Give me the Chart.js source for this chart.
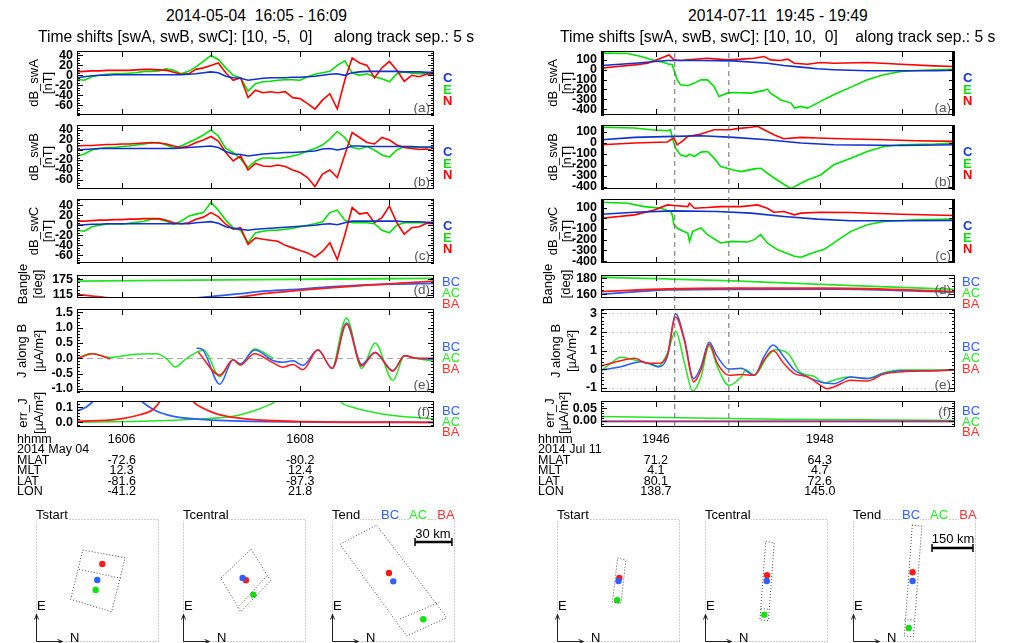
<!DOCTYPE html>
<html>
<head>
<meta charset="utf-8">
<script src="https://cdn.jsdelivr.net/npm/chart.js@4.4.1/dist/chart.umd.min.js"></script>
<style>
  body { margin: 0; background: #fff; }
  #fig { position: relative; width: 1010px; height: 643px; overflow: hidden; background: #fff;
         font-family: "Liberation Sans", Arial, Helvetica, sans-serif; color: #000; }
  .t { position: absolute; white-space: pre; line-height: 1; }
  .p { position: absolute; }
  canvas { display: block; }
</style>
</head>
<body>
<div id="fig"></div>
<script>
// ---------- time axes (minutes of the hour) ----------
const leftRange = [5.5, 9.5];
const rightRange = [45.33, 49.65];
const leftMinuteTicks = [6, 7, 8, 9];
const rightMinuteTicks = [46, 47, 48, 49];
const leftTimeLabels = [[6, '1606'], [8, '1608']];
const rightTimeLabels = [[46, '1946'], [48, '1948']];
const eventTimes = [46.23, 46.89];          // dashed markers, right column
const tLeft = Array.from({ length: 49 }, (_, i) => 5.5 + i / 12);   // 5 s samples

// ---------- left column: dB per satellite (nT), one value per 5 s ----------
const swA_C = [-5,-3,-1,0,0,1,1,1,1,1, 1,1,1,1,1,2,3,5,7,5, -2,-5,-6,-10,-8,-6,-5,-5,-5,-4, -4,-3,-2,0,2,3,0,5,7,8, 8,8,8,8,7,7,7,6,6];
const swA_E = [-8,-10,-3,0,2,3,3,4,5,8, 8,9,13,10,3,8,17,28,40,32, 15,0,-5,-32,-17,-13,-12,-10,-9,-9, -10,-3,2,5,8,20,29,5,0,3, -3,-7,-13,3,7,4,3,3,3];
const swA_N = [7,8,9,9,10,10,10,10,11,12, 12,11,10,6,2,3,12,15,20,25, 5,-10,-5,-45,-30,-35,-33,-35,-33,-45, -47,-57,-68,-50,-37,-68,-10,35,25,20, -5,15,28,10,-12,0,-3,2,3];
const swB_C = [0,1,2,3,3,3,3,3,3,3, 3,3,3,3,4,5,6,7,8,5, -3,-8,-9,-12,-10,-8,-7,-6,-5,-5, -4,-3,-2,2,3,0,3,8,8,7, 7,7,7,7,7,7,6,6,6];
const swB_E = [-12,-8,0,3,5,5,7,8,10,12, 14,15,10,4,8,15,22,30,40,28, 3,-5,-18,-35,-22,-16,-16,-17,-15,-12, -8,-2,3,10,22,37,25,5,2,7, 0,-10,-14,0,7,5,5,5,5];
const swB_N = [8,9,9,10,11,11,12,12,13,14, 15,14,12,8,5,8,15,20,27,18, -5,-22,-12,-40,-27,-32,-33,-30,-33,-40, -45,-55,-73,-48,-40,-55,-10,35,25,15, 12,25,20,10,5,3,1,2,-2];
const swC_C = [0,1,2,2,3,3,3,3,3,3, 3,3,3,3,3,3,5,6,7,4, -3,-6,-8,-10,-8,-7,-6,-5,-4,-3, -2,-1,0,2,3,1,5,8,8,8, 8,8,8,8,7,7,7,6,6];
const swC_E = [-10,-12,-3,0,2,3,2,4,6,8, 12,12,8,2,8,18,22,25,45,30, 10,-5,-10,-35,-15,-12,-10,-10,-8,-6, -3,0,3,7,25,30,10,5,5,5, 3,-10,-15,0,5,5,5,5,5];
const swC_N = [8,8,9,10,10,11,11,12,12,13, 13,13,10,5,3,5,12,16,25,17, 2,-8,-5,-38,-25,-28,-30,-32,-40,-45, -50,-55,-63,-52,-35,-68,-20,35,22,25, 5,15,38,5,-18,-5,-3,4,3];

// ---------- left column: angles, currents, errors as (minute, value) ----------
const bangleL_BC = [[6.7,98],[6.84,102],[7.3,118],[7.625,129.5],[8.0,137],[8.37,146],[8.75,153],[9.5,159]];
const bangleL_AC = [[5.5,168.4],[7.5,174],[9.5,179]];
const bangleL_BA = [[5.5,116],[5.87,102],[5.95,98],[6.5,null],[7.1,98],[7.24,102],[7.625,120],[8.0,132],[8.37,143],[8.75,152],[9.12,160],[9.5,168]];
const jL_BC = [[6.84,0.33],[6.9,0.3],[7.1,-0.85],[7.25,-0.05],[7.33,-0.18],[7.49,0.27],[7.7,-0.08],[7.81,-0.13],[7.92,-0.08],[8.03,-0.23],[8.2,0.28],[8.36,-0.33],[8.52,1.15],[8.69,-0.2],[8.84,0.2],[9.04,-0.4],[9.17,0.08],[9.3,0.0],[9.5,-0.03]];
const jL_AC = [[5.5,0.0],[5.66,0.16],[5.87,0.03],[6.1,0.12],[6.39,0.15],[6.5,0.0],[6.6,-0.28],[6.73,0.0],[6.92,0.27],[7.1,-0.6],[7.25,-0.05],[7.33,-0.22],[7.49,0.3],[7.7,0.0],[7.9,null],[8.38,-0.25],[8.52,1.32],[8.69,-0.33],[8.84,0.5],[9.04,-0.72],[9.17,0.08],[9.3,0.0],[9.5,-0.1]];
const jL_BA = [[5.5,-0.02],[5.67,0.15],[5.87,-0.02],[6.3,null],[6.86,0.2],[7.1,-0.55],[7.25,-0.05],[7.33,-0.22],[7.49,0.15],[7.7,-0.15],[7.81,-0.29],[7.92,-0.2],[8.03,-0.37],[8.2,0.27],[8.36,-0.33],[8.52,1.12],[8.69,-0.25],[8.84,0.18],[9.04,-0.42],[9.17,0.08],[9.3,0.0],[9.5,0.0]];
const errL_BC = [[5.5,0.075],[5.6,0.1],[5.68,0.14],[5.75,0.2],[6.15,0.2],[6.225,0.14],[6.39,0.075],[6.58,0.04],[6.88,0.02],[7.25,0.01],[7.63,0.004],[8.5,0.0],[9.5,0.0]];
const errL_AC = [[5.5,0.0],[6.1,0.006],[6.88,0.022],[7.25,0.04],[7.475,0.075],[7.625,0.109],[7.72,0.14],[7.78,0.2],[8.4,0.2],[8.45,0.14],[8.6,0.098],[8.745,0.075],[9.12,0.04],[9.5,0.024]];
const errL_BA = [[5.5,0.006],[5.95,0.02],[6.205,0.05],[6.355,0.086],[6.43,0.14],[6.47,0.2],[6.75,0.2],[6.8,0.14],[6.915,0.093],[7.065,0.056],[7.25,0.033],[7.63,0.012],[8.0,0.005],[9.5,0.0]];

// ---------- right column: dB per satellite (nT) as (minute, value) ----------
const rA_C = [[45.34,43],[45.74,66],[46.14,93],[46.55,93],[46.95,90],[47.36,66],[47.56,43],[47.77,26],[47.97,9],[48.17,0],[48.58,-11],[48.99,-11],[49.41,-11],[49.65,-5]];
const rA_E = [[45.34,168],[45.655,165],[45.82,134],[45.98,93],[46.1,73],[46.14,60],[46.2,50],[46.22,0],[46.26,-100],[46.3,-153],[46.39,-163],[46.47,-136],[46.55,-103],[46.63,-103],[46.71,-170],[46.77,-272],[46.87,-238],[46.95,-231],[47.16,-238],[47.32,-210],[47.36,-197],[47.4,-238],[47.52,-305],[47.65,-339],[47.69,-390],[47.77,-373],[47.85,-390],[48.01,-322],[48.17,-255],[48.38,-177],[48.58,-103],[48.78,-52],[48.99,-18],[49.19,-8],[49.41,0],[49.65,5]];
const rA_N = [[45.34,16],[45.53,32],[45.74,49],[45.9,66],[46.06,117],[46.16,150],[46.22,100],[46.3,93],[46.47,107],[46.63,117],[46.87,100],[47.04,107],[47.2,117],[47.32,134],[47.4,100],[47.52,93],[47.61,107],[47.69,66],[47.85,56],[48.01,73],[48.17,66],[48.58,73],[48.99,56],[49.39,39],[49.65,32]];
const rB_C = [[45.34,29],[45.74,51],[46.22,60],[46.55,66],[46.95,51],[47.36,29],[47.77,0],[48.17,-17],[48.99,-23],[49.65,-17]];
const rB_E = [[45.34,143],[45.74,137],[45.94,121],[46.14,112],[46.18,121],[46.2,45],[46.24,-47],[46.3,-109],[46.37,-124],[46.41,-102],[46.47,-124],[46.55,-84],[46.63,-78],[46.71,-139],[46.79,-216],[46.95,-247],[47.04,-262],[47.2,-237],[47.28,-231],[47.36,-277],[47.48,-339],[47.61,-400],[47.65,-415],[47.77,-369],[47.85,-339],[48.01,-293],[48.17,-200],[48.38,-139],[48.58,-78],[48.78,-32],[48.99,-17],[49.41,-10],[49.65,0]];
const rB_N = [[45.34,-17],[45.74,0],[46.14,8],[46.18,29],[46.22,45],[46.26,-17],[46.32,14],[46.39,60],[46.55,82],[46.71,121],[46.91,121],[46.99,131],[47.16,143],[47.24,152],[47.32,121],[47.44,75],[47.56,39],[47.77,51],[47.97,45],[48.38,36],[48.78,29],[49.19,20],[49.65,14]];
const rC_C = [[45.34,38],[45.74,57],[46.22,69],[46.75,63],[47.16,48],[47.56,17],[47.97,-8],[48.38,-23],[48.99,-23],[49.65,-20]];
const rC_E = [[45.34,149],[45.655,140],[45.86,109],[46.06,94],[46.18,63],[46.2,32],[46.22,-60],[46.26,-91],[46.32,-116],[46.39,-138],[46.41,-215],[46.45,-122],[46.55,-91],[46.63,-153],[46.79,-230],[46.92,-215],[47.12,-221],[47.2,-199],[47.28,-153],[47.36,-230],[47.48,-292],[47.69,-354],[47.77,-363],[47.97,-307],[48.05,-292],[48.17,-230],[48.38,-122],[48.58,-60],[48.78,-30],[49.19,-14],[49.65,-8]];
const rC_N = [[45.34,1],[45.74,32],[45.98,78],[46.14,125],[46.22,119],[46.39,109],[46.41,140],[46.47,94],[46.63,100],[46.79,109],[47.04,109],[47.24,125],[47.36,94],[47.44,57],[47.56,63],[47.69,32],[47.77,48],[48.01,57],[48.38,54],[48.99,38],[49.65,26]];

// ---------- right column: angles, currents, errors ----------
const bangleR_BC = [[45.34,160],[46.14,165.4],[46.95,166.2],[48.17,166.6],[49.65,162.5]];
const bangleR_AC = [[45.34,181.2],[46.14,179.1],[46.95,176.6],[48.17,171.6],[49.65,166.2]];
const bangleR_BA = [[45.34,163.3],[46.14,166.6],[46.95,167.5],[48.17,167.5],[49.65,163.3]];
const jR_BC = [[45.34,-0.05],[45.57,0.13],[45.82,0.4],[45.94,0.27],[46.04,0.13],[46.14,0.67],[46.24,2.98],[46.35,1.58],[46.46,-0.51],[46.55,0.13],[46.65,1.44],[46.75,0.67],[46.89,0.0],[47.04,0.04],[47.2,-0.33],[47.32,0.67],[47.43,1.29],[47.56,0.67],[47.69,-0.05],[47.85,-0.42],[48.01,-0.69],[48.17,-0.78],[48.38,-0.42],[48.58,-0.51],[48.78,-0.24],[48.99,-0.09],[49.39,-0.09],[49.65,-0.05]];
const jR_AC = [[45.34,-0.05],[45.45,0.31],[45.57,0.64],[45.74,0.49],[45.9,0.31],[46.02,0.13],[46.14,0.85],[46.24,2.04],[46.35,0.31],[46.45,-1.18],[46.55,-0.42],[46.65,1.25],[46.75,0.13],[46.89,-0.87],[47.04,-0.42],[47.1,-0.05],[47.2,-0.33],[47.36,0.67],[47.46,1.04],[47.61,0.85],[47.77,-0.2],[47.93,-0.38],[48.05,-0.75],[48.17,-0.6],[48.34,-0.42],[48.58,-0.51],[48.78,-0.2],[48.99,-0.05],[49.39,-0.05],[49.65,-0.02]];
const jR_BA = [[45.34,0.18],[45.57,0.45],[45.74,0.58],[45.9,0.31],[46.02,0.31],[46.14,0.76],[46.24,2.8],[46.35,1.49],[46.46,-0.69],[46.55,-0.05],[46.65,1.35],[46.75,0.31],[46.89,-0.33],[47.04,-0.29],[47.2,-0.33],[47.32,0.49],[47.43,1.0],[47.56,0.31],[47.69,-0.24],[47.85,-0.42],[48.01,-0.87],[48.09,-1.05],[48.17,-0.96],[48.38,-0.6],[48.58,-0.64],[48.78,-0.27],[48.99,-0.15],[49.39,-0.09],[49.65,-0.05]];
const errR_BC = [[45.34,-0.002],[49.65,-0.002]];
const errR_AC = [[45.34,0.017],[46.5,0.011],[47.5,0.007],[49.65,0.002]];
const errR_BA = [[45.34,-0.002],[49.65,-0.002]];

// ---------- orbit position table ----------
const rowNames = ['MLAT', 'MLT', 'LAT', 'LON'];
const leftRows = [['-72.6', '-80.2'], ['12.3', '12.4'], ['-81.6', '-87.3'], ['-41.2', '21.8']];
const rightRows = [['71.2', '64.3'], ['4.1', '4.7'], ['80.1', '72.6'], ['138.7', '145.0']];

// ---------- spacecraft configuration insets (km, box lower-left = 0) ----------
// dots in order BC, AC, BA
const insetL = {
  size: 100, bar: 30,
  start:   { rect: [[38,74.8],[72.4,68.5],[61.5,24.6],[28.2,34.7]], div: [[35,59.1],[68.9,51.8]], dots: [[49.8,50.4],[48.5,42.3],[53.9,63.4]] },
  central: { rect: [[55.3,75.4],[71.3,49.8],[46.9,24.6],[30.7,51.8]], div: [[68,53.7],[44.1,27.4]], dots: [[48.5,52],[57.2,38.5],[51.2,50.2]] },
  end:     { rect: [[6.5,79.4],[36.3,95.1],[93.3,19.8],[60.7,4.9]], div: [[55.3,18.7],[87.2,32.3]], dots: [[49.8,49.3],[74.2,18.5],[46.3,56.1]] },
  barPos: [67.5, 81.3]
};
const insetR = {
  size: 450, bar: 150,
  start:   { rect: [[222,308],[252,299],[234,142],[203,146]], div: [], dots: [[225,223],[220,153],[228,234]] },
  central: { rect: [[222,367],[253,363],[232,78],[201,81]], div: [[204,122],[233,120]], dots: [[226,223],[217,100],[227,244]] },
  end:     { rect: [[217,428],[252,424],[221,19],[188,22]], div: [[188,81],[223,81]], dots: [[218,223],[204,51],[218,255]] },
  barPos: [289, 344]
};

// ---------- drawing ----------
const FONT = '"Liberation Sans", Arial, Helvetica, sans-serif';
Chart.defaults.font.family = FONT;
const fig = document.getElementById('fig');

const DB_BLUE = '#1030d0', DB_GREEN = '#00e000', DB_RED = '#ff0000';
const J_BLUE = '#2a5cff', J_GREEN = '#22e622', J_RED = '#ff1a1a';
const LBL_BLUE = '#2f5fff', LBL_GREEN = '#22ee22', LBL_RED = '#ff3030';

const grid5s = arr => arr.map((v, i) => ({ x: tLeft[i], y: v }));
const pairs = arr => arr.map(([x, y]) => ({ x, y }));

function label(x, y, s, o = {}) {
  const d = document.createElement('div');
  d.className = 't';
  d.textContent = s;
  d.style.left = x + 'px';
  d.style.top = y + 'px';
  d.style.fontSize = (o.size || 12.5) + 'px';
  if (o.bold) d.style.fontWeight = 'bold';
  if (o.color) d.style.color = o.color;
  if (o.bg) d.style.background = o.bg;
  const ax = { left: '0', center: '-50%', right: '-100%' }[o.align || 'left'];
  d.style.transform = o.rot ? 'translate(-50%,-50%) rotate(-90deg)' : `translate(${ax},-50%)`;
  fig.appendChild(d);
  return d;
}

function fitWidth(d, w) {
  const fs = parseFloat(d.style.fontSize) * w / d.offsetWidth;
  d.style.fontSize = fs + 'px';
  return fs;
}

// box, inward ticks, reference lines
const framePlugin = {
  id: 'frame',
  beforeDatasetsDraw(chart, args, o) {
    const { ctx, chartArea: a } = chart;
    const ys = chart.scales.y;
    ctx.save();
    ctx.lineWidth = 1;
    if (o.grid) {
      ctx.strokeStyle = '#c4c4c4';
      ctx.setLineDash([1, 3]);
      o.yTicks.forEach(v => {
        const y = Math.round(ys.getPixelForValue(v)) + 0.5;
        ctx.beginPath(); ctx.moveTo(a.left, y); ctx.lineTo(a.right, y); ctx.stroke();
      });
    }
    if (o.zero) {
      ctx.strokeStyle = '#a8a8a8';
      ctx.setLineDash([6, 4]);
      const y = Math.round(ys.getPixelForValue(0)) + 0.5;
      ctx.beginPath(); ctx.moveTo(a.left, y); ctx.lineTo(a.right, y); ctx.stroke();
    }
    ctx.restore();
  },
  afterDatasetsDraw(chart, args, o) {
    const { ctx, chartArea: a } = chart;
    const xs = chart.scales.x, ys = chart.scales.y;
    const l = Math.round(a.left), r = Math.round(a.right), t = Math.round(a.top), b = Math.round(a.bottom);
    const seg = (x1, y1, x2, y2) => { ctx.beginPath(); ctx.moveTo(x1, y1); ctx.lineTo(x2, y2); ctx.stroke(); };
    ctx.save();
    ctx.strokeStyle = '#000';
    ctx.fillStyle = '#000';
    ctx.lineWidth = 1;
    ctx.strokeRect(l + 0.5, t + 0.5, r - l - 1, b - t - 1);
    o.xTicks.forEach(v => {
      const x = Math.round(xs.getPixelForValue(v)) + 0.5;
      seg(x, b, x, b - 6); seg(x, t, x, t + 6);
    });
    if (o.yMinor) {
      for (let v = Math.ceil(ys.min / o.yMinor) * o.yMinor; v <= ys.max; v += o.yMinor) {
        const y = Math.round(ys.getPixelForValue(v)) + 0.5;
        seg(l, y, l + 3, y); seg(r, y, r - 3, y);
      }
    }
    o.yTicks.forEach(v => {
      const y = Math.round(ys.getPixelForValue(v)) + 0.5;
      seg(l, y, l + 6, y); seg(r, y, r - 6, y);
    });
    if (o.thick) {
      ctx.fillRect(l, t, 3, b - t);
      ctx.fillRect(r - 3, t, 3, b - t);
    }
    ctx.restore();
  }
};

function addPanel(o) {
  const [L, T, R, B] = o.box;
  const padL = 48, padT = 8, padR = 4, padB = 3;
  const wrap = document.createElement('div');
  wrap.className = 'p';
  wrap.style.left = (L - padL) + 'px';
  wrap.style.top = (T - padT) + 'px';
  const cv = document.createElement('canvas');
  cv.width = R - L + padL + padR;
  cv.height = B - T + padT + padB;
  wrap.appendChild(cv);
  fig.appendChild(wrap);
  return new Chart(cv, {
    type: 'line',
    data: {
      datasets: o.series.map(s => ({
        data: s.data,
        borderColor: s.color,
        borderWidth: s.width || 1.5,
        pointRadius: 0,
        tension: 0,
        cubicInterpolationMode: o.smooth ? 'monotone' : 'default',
        spanGaps: false,
        fill: false
      }))
    },
    options: {
      responsive: false,
      animation: false,
      devicePixelRatio: 1,
      events: [],
      layout: { padding: { left: 0, top: padT, right: padR, bottom: padB }, autoPadding: false },
      plugins: {
        legend: { display: false },
        tooltip: { enabled: false },
        frame: { xTicks: o.xTicks, yTicks: o.yTicks, yMinor: o.yMinor, thick: o.thick, zero: o.zero, grid: o.grid }
      },
      scales: {
        x: { type: 'linear', min: o.xRange[0], max: o.xRange[1], display: false },
        y: {
          type: 'linear', min: o.yRange[0], max: o.yRange[1],
          grid: { display: false, drawTicks: false },
          border: { display: false },
          ticks: {
            autoSkip: false, padding: 4, color: '#000',
            font: { family: FONT, size: 12.5, weight: 'bold' },
            callback: v => Number(v).toFixed(o.dec || 0)
          },
          afterBuildTicks: s => { s.ticks = o.yTicks.map(v => ({ value: v })); },
          afterFit: s => { s.width = padL; s.paddingTop = 0; s.paddingBottom = 0; }
        }
      }
    },
    plugins: [framePlugin]
  });
}

// dashed event markers through all right-column panels
function addMarkers(box, range, times) {
  const [L, T, R, B] = box;
  const wrap = document.createElement('div');
  wrap.className = 'p';
  wrap.style.left = L + 'px';
  wrap.style.top = T + 'px';
  const cv = document.createElement('canvas');
  cv.width = R - L; cv.height = B - T;
  wrap.appendChild(cv);
  fig.appendChild(wrap);
  new Chart(cv, {
    type: 'line',
    data: {
      datasets: times.map(t => ({
        data: [{ x: t, y: 0 }, { x: t, y: 1 }],
        borderColor: '#666', borderWidth: 1, borderDash: [5, 4], pointRadius: 0
      }))
    },
    options: {
      responsive: false, animation: false, devicePixelRatio: 1, events: [],
      layout: { padding: 0, autoPadding: false },
      plugins: { legend: { display: false }, tooltip: { enabled: false } },
      scales: {
        x: { type: 'linear', min: range[0], max: range[1], display: false },
        y: { type: 'linear', min: 0, max: 1, display: false }
      }
    }
  });
}

const insetPlugin = {
  id: 'insetFrame',
  beforeDatasetsDraw(chart) {
    const { ctx, chartArea: a } = chart;
    const l = Math.round(a.left), r = Math.round(a.right), t = Math.round(a.top), b = Math.round(a.bottom);
    ctx.save();
    ctx.strokeStyle = '#9a9a9a';
    ctx.lineWidth = 1;
    ctx.setLineDash([1, 2]);
    ctx.strokeRect(l + 0.5, t + 0.5, r - l - 1, b - t - 1);
    ctx.setLineDash([]);
    ctx.strokeStyle = '#222';
    const seg = (x1, y1, x2, y2) => { ctx.beginPath(); ctx.moveTo(x1, y1); ctx.lineTo(x2, y2); ctx.stroke(); };
    const x0 = l + 0.5, y0 = b - 0.5;
    seg(x0, y0, x0, y0 - 27); seg(x0, y0 - 27, x0 - 2, y0 - 22); seg(x0, y0 - 27, x0 + 2, y0 - 22);
    seg(x0, y0, x0 + 26, y0); seg(x0 + 26, y0, x0 + 21, y0 - 2); seg(x0 + 26, y0, x0 + 21, y0 + 2);
    ctx.restore();
  }
};

function addInset(x, y, set, cfg, withBar) {
  const S = 123, m = 3;
  const wrap = document.createElement('div');
  wrap.className = 'p';
  wrap.style.left = (x - m) + 'px';
  wrap.style.top = (y - m) + 'px';
  const cv = document.createElement('canvas');
  cv.width = S + 2 * m; cv.height = S + 2 * m;
  wrap.appendChild(cv);
  fig.appendChild(wrap);
  const outline = { borderColor: '#444', borderWidth: 1, borderDash: [1, 2], pointRadius: 0, showLine: true };
  const dotColors = [LBL_BLUE, '#11e011', '#ff1a1a'];
  const datasets = [
    Object.assign({ data: pairs(set.rect.concat([set.rect[0]])) }, outline),
    Object.assign({ data: pairs(set.div) }, outline)
  ];
  set.dots.forEach((p, i) => datasets.push({
    data: pairs([p]), pointRadius: 3.2, pointBackgroundColor: dotColors[i], pointBorderWidth: 0, showLine: false
  }));
  if (withBar) {
    const [bx, by] = cfg.barPos;
    datasets.push({
      data: pairs([[bx, by], [bx + cfg.bar, by]]), showLine: true, borderColor: '#000', borderWidth: 2.5,
      pointStyle: 'line', rotation: 90, pointRadius: 4, pointBorderWidth: 1.5, pointBorderColor: '#000'
    });
  }
  new Chart(cv, {
    type: 'scatter',
    data: { datasets },
    options: {
      responsive: false, animation: false, devicePixelRatio: 1, events: [],
      layout: { padding: m, autoPadding: false },
      plugins: { legend: { display: false }, tooltip: { enabled: false } },
      scales: {
        x: { type: 'linear', min: 0, max: cfg.size, display: false },
        y: { type: 'linear', min: 0, max: cfg.size, display: false }
      }
    },
    plugins: [insetPlugin]
  });
}

// ---------- layout ----------
const rowsY = { a: [51, 115], b: [125, 189], c: [199, 263], d: [275, 298], e: [309, 392], f: [401, 427] };

function column(c) {
  const L = c.L, R = c.R;
  const box = k => [L, rowsY[k][0], R, rowsY[k][1]];
  const common = { xRange: c.range, xTicks: c.minuteTicks };
  const dbSeries = (C, N, E) => [
    { data: C, color: DB_BLUE, width: 1.6 },
    { data: N, color: DB_RED, width: 1.6 },
    { data: E, color: DB_GREEN, width: 1.6 }
  ];
  addPanel(Object.assign({ box: box('a'), series: dbSeries(c.dbA[0], c.dbA[2], c.dbA[1]) }, common, c.dbAxis[0]));
  addPanel(Object.assign({ box: box('b'), series: dbSeries(c.dbB[0], c.dbB[2], c.dbB[1]) }, common, c.dbAxis[1]));
  addPanel(Object.assign({ box: box('c'), series: dbSeries(c.dbC[0], c.dbC[2], c.dbC[1]) }, common, c.dbAxis[2]));
  addPanel(Object.assign({ box: box('d'), smooth: true, series: [
    { data: pairs(c.bangle[2]), color: J_RED, width: 1.8 },
    { data: pairs(c.bangle[0]), color: J_BLUE, width: 1.8 },
    { data: pairs(c.bangle[1]), color: J_GREEN, width: 1.8 }
  ] }, common, c.angAxis));
  addPanel(Object.assign({ box: box('e'), smooth: true, series: [
    { data: pairs(c.j[2]), color: J_RED, width: 1.5 },
    { data: pairs(c.j[0]), color: J_BLUE, width: 1.5 },
    { data: pairs(c.j[1]), color: J_GREEN, width: 1.5 }
  ] }, common, c.jAxis));
  addPanel(Object.assign({ box: box('f'), smooth: true, series: [
    { data: pairs(c.err[2]), color: c.errRed, width: 1.8 },
    { data: pairs(c.err[0]), color: J_BLUE, width: 1.8 },
    { data: pairs(c.err[1]), color: J_GREEN, width: 1.5 }
  ] }, common, c.errAxis));

  // titles
  const t1 = label(c.titleX, 16, c.title, { size: 16 });
  fitWidth(t1, c.titleW);
  const t2 = label(c.subX, 37, c.sub, { size: 16 });
  t2.style.fontSize = c.subSize + 'px';

  // y-axis titles
  const at = c.axisTitleX;
  const mid = k => (rowsY[k][0] + rowsY[k][1]) / 2;
  ['a', 'b', 'c'].forEach((k, i) => {
    label(at.db[0], mid(k), 'dB_sw' + 'ABC'[i], { size: 13, rot: true });
    label(at.db[1], mid(k), '[nT]', { size: 13, rot: true });
    const top = rowsY[k][0];
    label(c.sideX, top + 26, 'C', { size: 13, bold: true, color: '#1a3ae0', align: 'left' });
    label(c.sideX, top + 37.5, 'E', { size: 13, bold: true, color: '#10dd10', align: 'left' });
    label(c.sideX, top + 49, 'N', { size: 13, bold: true, color: '#ff0000', align: 'left' });
  });
  label(at.ang[0], mid('d') - 3, 'Bangle', { size: 13, rot: true });
  label(at.ang[1], mid('d') - 3, '[deg]', { size: 13, rot: true });
  label(at.j[0], mid('e'), 'J along B', { size: 13, rot: true });
  label(at.j[1], mid('e'), '[\u00b5A/m\u00b2]', { size: 13, rot: true });
  label(at.err[0], 413, 'err_J', { size: 13, rot: true });
  label(at.err[1], 413, '[\u00b5A/m\u00b2]', { size: 13, rot: true });

  // BC / AC / BA keys
  [[281, 292, 303], [346, 357, 368], [410, 420.5, 431]].forEach(ys => {
    label(c.sideX - 1, ys[0], 'BC', { size: 13, color: LBL_BLUE });
    label(c.sideX - 1, ys[1], 'AC', { size: 13, color: LBL_GREEN });
    label(c.sideX - 1, ys[2], 'BA', { size: 13, color: LBL_RED });
  });

  // panel letters
  const letterY = { a: 108, b: 182, c: 256, d: 290, e: 385, f: 412 };
  Object.keys(letterY).forEach(k => label(R - 4, letterY[k], '(' + k + ')', { size: 13.5, color: '#555', align: 'right' }));

  // time / position table
  const pxPerMin = (R - L) / (c.range[1] - c.range[0]);
  const timeX = m => L + (m - c.range[0]) * pxPerMin;
  const rowY = [438.5, 449, 459.5, 470, 480.5, 491];
  label(c.tableX, rowY[0], 'hhmm', { size: 12.5 });
  label(c.tableX, rowY[1], c.dateText, { size: 12.5 });
  c.timeLabels.forEach(([m, s]) => label(timeX(m), rowY[0], s, { size: 12.5, align: 'center' }));
  rowNames.forEach((n, i) => {
    label(c.tableX, rowY[i + 2], n, { size: 12.5 });
    c.rows[i].forEach((v, j) => label(timeX(c.timeLabels[j][0]), rowY[i + 2], v, { size: 12.5, align: 'center' }));
  });

  // insets
  const iy = 519;
  c.insetX.forEach((ix, i) => {
    const key = ['start', 'central', 'end'][i];
    addInset(ix, iy, c.inset[key], c.inset, i === 2);
    label(ix, 514, ['Tstart', 'Tcentral', 'Tend'][i], { size: 13, bg: '#fff' });
    label(ix + 1, 605, 'E', { size: 13 });
    label(ix + 34, 637, 'N', { size: 13 });
  });
  label(c.keyX[0], 514, 'BC', { size: 13, color: LBL_BLUE, align: 'center', bg: '#fff' });
  label(c.keyX[1], 514, 'AC', { size: 13, color: LBL_GREEN, align: 'center', bg: '#fff' });
  label(c.keyX[2], 514, 'BA', { size: 13, color: LBL_RED, align: 'center', bg: '#fff' });
  label(c.barLabel[0], c.barLabel[1], c.inset.bar + ' km', { size: 13, align: 'center' });
}

// right subtitle width decides the shared subtitle size
const probe = label(0, -100, 'Time shifts [swA, swB, swC]: [10, 10,  0]    along track sep.: 5 s', { size: 16 });
const subSize = fitWidth(probe, 436);
probe.remove();

column({
  L: 77, R: 434, range: leftRange, minuteTicks: leftMinuteTicks, timeLabels: leftTimeLabels,
  dbA: [grid5s(swA_C), grid5s(swA_E), grid5s(swA_N)],
  dbB: [grid5s(swB_C), grid5s(swB_E), grid5s(swB_N)],
  dbC: [grid5s(swC_C), grid5s(swC_E), grid5s(swC_N)],
  dbAxis: [
    { yRange: [-80, 49], yTicks: [-60, -40, -20, 0, 20, 40], yMinor: 5 },
    { yRange: [-78, 50], yTicks: [-60, -40, -20, 0, 20, 40], yMinor: 5 },
    { yRange: [-75, 52], yTicks: [-60, -40, -20, 0, 20, 40], yMinor: 5 }
  ],
  angAxis: { yRange: [102, 192], yTicks: [115, 175], yMinor: 15 },
  jAxis: { yRange: [-1.10, 1.61], yTicks: [-1, -0.5, 0, 0.5, 1, 1.5], yMinor: 0.1, dec: 1, zero: true },
  errAxis: { yRange: [-0.031, 0.141], yTicks: [0, 0.1], yMinor: 0.02, dec: 1 },
  bangle: [bangleL_BC, bangleL_AC, bangleL_BA],
  j: [jL_BC, jL_AC, jL_BA],
  err: [errL_BC, errL_AC, errL_BA], errRed: '#ff1a1a',
  title: '2014-05-04  16:05 - 16:09', titleX: 166, titleW: 181,
  sub: 'Time shifts [swA, swB, swC]: [10, -5,  0]     along track sep.: 5 s', subX: 38, subSize,
  axisTitleX: { db: [33, 47], ang: [22, 37], j: [21, 38], err: [22, 38] },
  sideX: 443, tableX: 17, dateText: '2014 May 04', rows: leftRows,
  inset: insetL, insetX: [36, 183, 332], keyX: [390, 418, 446], barLabel: [433, 533]
});

column({
  L: 601, R: 955, range: rightRange, minuteTicks: rightMinuteTicks, timeLabels: rightTimeLabels,
  dbA: [pairs(rA_C), pairs(rA_E), pairs(rA_N)],
  dbB: [pairs(rB_C), pairs(rB_E), pairs(rB_N)],
  dbC: [pairs(rC_C), pairs(rC_E), pairs(rC_N)],
  dbAxis: [
    { yRange: [-460, 190], yTicks: [-400, -300, -200, -100, 0, 100], yMinor: 20, thick: true },
    { yRange: [-421, 164], yTicks: [-400, -300, -200, -100, 0, 100], yMinor: 20, thick: true },
    { yRange: [-417, 180], yTicks: [-400, -300, -200, -100, 0, 100], yMinor: 20, thick: true }
  ],
  angAxis: { yRange: [155.4, 184], yTicks: [160, 180], yMinor: 5 },
  jAxis: { yRange: [-1.23, 3.23], yTicks: [-1, 0, 1, 2, 3], yMinor: 0.2, grid: true },
  errAxis: { yRange: [-0.0236, 0.0776], yTicks: [0, 0.05], yMinor: 0.01, dec: 2 },
  bangle: [bangleR_BC, bangleR_AC, bangleR_BA],
  j: [jR_BC, jR_AC, jR_BA],
  err: [errR_BC, errR_AC, errR_BA], errRed: 'rgba(255,20,20,0.6)',
  title: '2014-07-11  19:45 - 19:49', titleX: 688, titleW: 180,
  sub: 'Time shifts [swA, swB, swC]: [10, 10,  0]    along track sep.: 5 s', subX: 560, subSize,
  axisTitleX: { db: [552, 566], ang: [547, 565], j: [555, 571], err: [549, 563] },
  sideX: 963, tableX: 538, dateText: '2014 Jul 11', rows: rightRows,
  inset: insetR, insetX: [557, 705, 853], keyX: [911, 939, 968], barLabel: [953, 538]
});

addMarkers([601, 51, 955, 427], rightRange, eventTimes);
</script>
</body>
</html>
